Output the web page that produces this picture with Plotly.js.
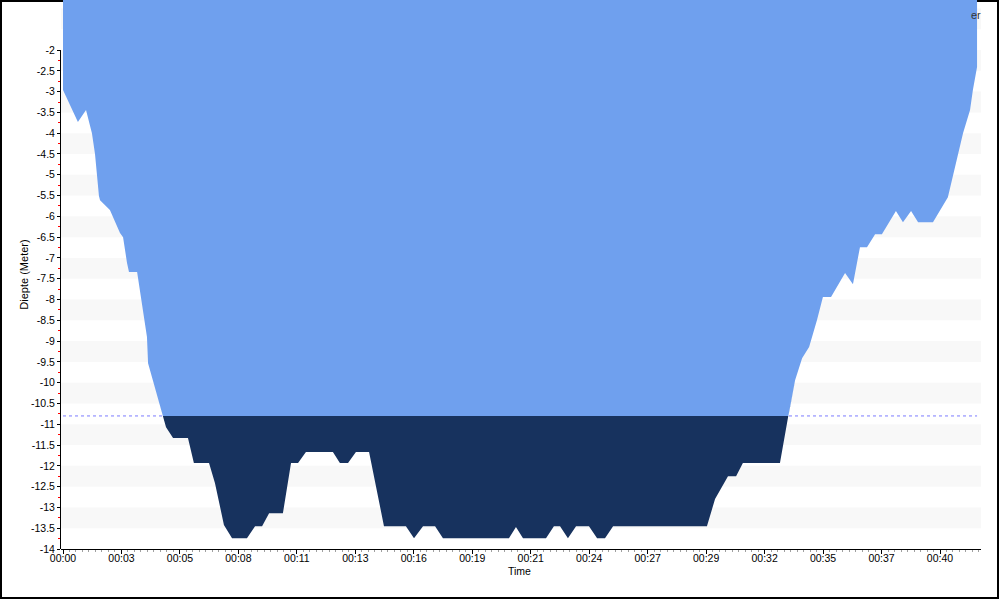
<!DOCTYPE html>
<html>
<head>
<meta charset="utf-8">
<script src="https://cdn.plot.ly/plotly-3.0.1.min.js"></script>
<style>
  html, body { margin: 0; padding: 0; background: #ffffff; }
  #chart { width: 1000px; height: 600px; }
</style>
</head>
<body>
<div id="chart"></div>
<script>
// ---- data (time in minutes, depth in metres) ----
const timeMin = [
  0.00, 0.68, 1.05, 1.32, 1.46, 1.55, 1.64, 1.69, 2.14, 2.60,
  2.74, 2.92, 3.01, 3.38, 3.51, 3.65, 3.83, 3.88, 4.06, 4.29,
  4.52, 4.70, 5.02, 5.70, 5.97, 6.66, 6.93, 7.16, 7.34, 7.71,
  8.39, 8.76, 9.08, 9.40, 10.03, 10.40, 10.72, 11.08, 12.31, 12.63,
  13.00, 13.36, 13.96, 14.64, 15.64, 16.01, 16.42, 16.97, 17.33, 20.34,
  20.66, 20.98, 22.03, 22.39, 22.67, 23.03, 23.40, 23.99, 24.36, 24.72,
  25.09, 29.37, 29.74, 30.33, 30.70, 31.01, 32.70, 33.07, 33.16, 33.39,
  33.71, 34.03, 34.39, 34.66, 35.03, 35.67, 36.03, 36.35, 36.67, 37.04,
  37.35, 37.99, 38.31, 38.68, 39.00, 39.68, 40.36, 40.59, 41.05, 41.37,
  41.50, 41.69
];
const depthM = [
  -2.96, -3.73, -3.44, -4.00, -4.50, -5.01, -5.51, -5.61, -5.85, -6.40,
  -6.50, -7.12, -7.34, -7.34, -7.77, -8.25, -8.90, -9.53, -9.86, -10.30,
  -10.73, -11.07, -11.33, -11.33, -11.93, -11.93, -12.41, -12.99, -13.42, -13.74,
  -13.74, -13.45, -13.45, -13.14, -13.14, -11.93, -11.93, -11.67, -11.67, -11.93,
  -11.93, -11.67, -11.67, -13.45, -13.45, -13.74, -13.45, -13.45, -13.74, -13.74,
  -13.47, -13.74, -13.74, -13.45, -13.45, -13.74, -13.45, -13.45, -13.74, -13.74,
  -13.45, -13.45, -12.80, -12.25, -12.25, -11.93, -11.93, -10.83, -10.59, -9.94,
  -9.41, -9.14, -8.49, -7.94, -7.94, -7.36, -7.63, -6.74, -6.74, -6.43,
  -6.43, -5.87, -6.14, -5.87, -6.14, -6.14, -5.54, -5.05, -4.00, -3.44,
  -2.96, -2.41
];
const thresholdM = -10.8;
const surfaceM = 0;
const xTickLabels = ['00:00','00:03','00:05','00:08','00:11','00:13','00:16','00:19',
                     '00:21','00:24','00:27','00:29','00:32','00:35','00:37','00:40'];
const yTickValues = [-2,-2.5,-3,-3.5,-4,-4.5,-5,-5.5,-6,-6.5,-7,-7.5,-8,-8.5,-9,-9.5,
                     -10,-10.5,-11,-11.5,-12,-12.5,-13,-13.5,-14];
const yTickLabels = yTickValues.map(v => String(v));
const xTitle = 'Time';
const yTitle = 'Diepte (Meter)';
const legendFragment = 'er';

// ---- derived series ----
const tickStepMin = 160 / 60;             // labelled ticks every 2 min 40 s
const xTickVals = xTickLabels.map((_, i) => i * tickStepMin);
const yMinorVals = yTickValues.slice(0, -1).map(v => v - 0.25);

// insert threshold crossings so the two colour zones meet exactly
const xs = [], ds = [];
for (let i = 0; i < timeMin.length; i++) {
  if (i > 0) {
    const d0 = depthM[i - 1], d1 = depthM[i];
    if ((d0 - thresholdM) * (d1 - thresholdM) < 0) {
      const f = (thresholdM - d0) / (d1 - d0);
      xs.push(timeMin[i - 1] + f * (timeMin[i] - timeMin[i - 1]));
      ds.push(thresholdM);
    }
  }
  xs.push(timeMin[i]);
  ds.push(depthM[i]);
}
const clipped = ds.map(d => Math.max(d, thresholdM));
const surfaceLine = xs.map(() => surfaceM);
const tStart = timeMin[0], tEnd = timeMin[timeMin.length - 1];

// ---- geometry ----
const W = 1000, H = 600;
const mL = 61, mR = 19, mT = 0, mB = 51;
const plotW = W - mL - mR, plotH = H - mT - mB;
const pxPerMin = 21.925, pxPerM = 41.58;
const xr0 = -(63 - mL) / pxPerMin;
const xr1 = xr0 + plotW / pxPerMin;
const yr0 = -14, yr1 = yr0 + plotH / pxPerM;
const px2paperX = p => (p - mL) / plotW;
const py2paperY = p => (H - mB - p) / plotH;

const font = 'Liberation Sans, Arial, sans-serif';

const traces = [
  { // threshold dotted line
    x: [tStart, tEnd], y: [thresholdM, thresholdM],
    mode: 'lines', line: { color: '#7c7cff', width: 1, dash: 'dot' },
    hoverinfo: 'skip', showlegend: false
  },
  { // depth profile (boundary)
    x: xs, y: ds, mode: 'lines', line: { width: 0, color: 'rgba(0,0,0,0)' },
    hoverinfo: 'skip', showlegend: false
  },
  { // deep zone
    x: xs, y: clipped, mode: 'lines', line: { width: 0, color: 'rgba(0,0,0,0)' },
    fill: 'tonexty', fillcolor: '#17325e', hoverinfo: 'skip', showlegend: false
  },
  { // shallow zone to surface
    x: xs, y: surfaceLine, mode: 'lines', line: { width: 0, color: 'rgba(0,0,0,0)' },
    fill: 'tonexty', fillcolor: '#6fa0ee', hoverinfo: 'skip', showlegend: false
  }
];

// alternating bands
const shapes = [];
for (let n = 1; n <= 13; n++) {
  shapes.push({
    type: 'rect', layer: 'below', xref: 'paper', yref: 'y',
    x0: 0, x1: 1, y0: -n - 0.5, y1: -n,
    fillcolor: '#f8f8f8', line: { width: 0 }
  });
}
// y axis line only over labelled span
shapes.push({
  type: 'line', layer: 'above', xref: 'paper', yref: 'y',
  x0: px2paperX(60.5), x1: px2paperX(60.5), y0: -14, y1: -2,
  line: { color: '#000000', width: 1 }
});
// outer frame
shapes.push({
  type: 'rect', layer: 'below', xref: 'paper', yref: 'paper',
  x0: px2paperX(1), x1: px2paperX(998), y0: py2paperY(598), y1: py2paperY(1),
  line: { color: '#000000', width: 2 }, fillcolor: 'rgba(0,0,0,0)'
});

const layout = {
  width: W, height: H,
  margin: { l: mL, r: mR, t: mT, b: mB, pad: 0 },
  paper_bgcolor: '#ffffff', plot_bgcolor: '#ffffff',
  showlegend: false,
  font: { family: font, size: 11, color: '#000000' },
  xaxis: {
    range: [xr0, xr1], fixedrange: true,
    tickmode: 'array', tickvals: xTickVals, ticktext: xTickLabels,
    ticks: 'outside', ticklen: 4, tickcolor: '#000000', tickwidth: 1,
    ticklabelstandoff: -5,
    minor: { tickmode: 'linear', tick0: 0, dtick: tickStepMin / 9, ticks: 'outside',
             ticklen: 2, tickcolor: '#a0a0a0', tickwidth: 1, showgrid: false },
    showline: true, linecolor: '#000000', linewidth: 1,
    showgrid: false, zeroline: false,
    tickfont: { family: font, size: 10.5, color: '#000000' }
  },
  yaxis: {
    range: [yr0, yr1], fixedrange: true,
    tickmode: 'array', tickvals: yTickValues, ticktext: yTickLabels,
    ticks: 'outside', ticklen: 3, tickcolor: '#000000', tickwidth: 1,
    minor: { tickmode: 'array', tickvals: yMinorVals, ticks: 'outside',
             ticklen: 2, tickcolor: '#ff0000', tickwidth: 1, showgrid: false },
    showline: false, showgrid: false, zeroline: false,
    tickfont: { family: font, size: 10.5, color: '#000000' },
    title: { text: yTitle, font: { family: font, size: 11, color: '#000000' }, standoff: 0 }
  },
  shapes: shapes,
  annotations: [
    {
      xref: 'paper', yref: 'paper', x: px2paperX(983), y: py2paperY(15),
      xanchor: 'right', yanchor: 'middle', showarrow: false,
      text: legendFragment, font: { family: font, size: 11, color: '#333333' }
    },
    {
      xref: 'paper', yref: 'paper', x: px2paperX(519), y: py2paperY(571),
      xanchor: 'center', yanchor: 'middle', showarrow: false,
      text: xTitle, font: { family: font, size: 10.5, color: '#000000' }
    }
  ]
};

Plotly.newPlot('chart', traces, layout, { staticPlot: true, displayModeBar: false });
</script>
</body>
</html>
